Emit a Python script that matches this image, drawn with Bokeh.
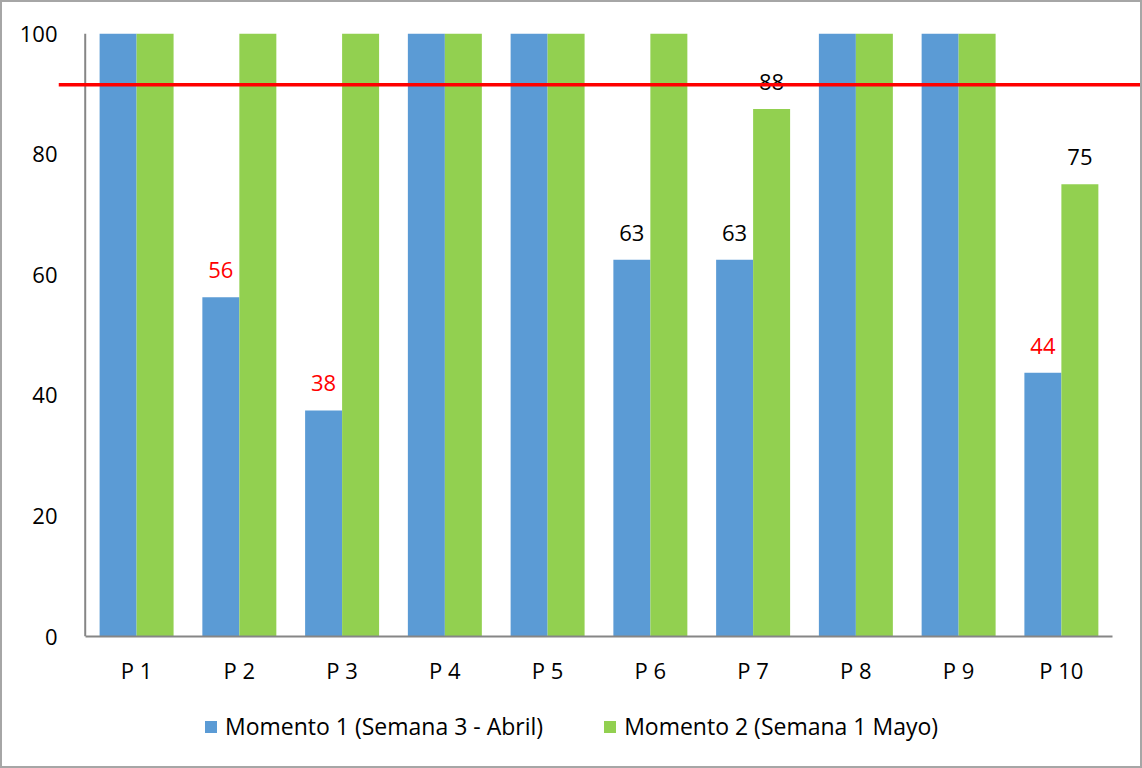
import math

from bokeh.core.properties import value
from bokeh.embed import file_html
from bokeh.layouts import column
from bokeh.models import (ColumnDataSource, FixedTicker, Legend, LegendItem,
                          Range1d, Span)
from bokeh.plotting import figure
from bokeh.resources import INLINE

# Porcentaje de logro por pregunta en dos momentos de evaluación
categorias = ["P 1", "P 2", "P 3", "P 4", "P 5", "P 6", "P 7", "P 8", "P 9", "P 10"]
momento1 = [100, 56.25, 37.5, 100, 100, 62.5, 62.5, 100, 100, 43.75]
momento2 = [100, 100, 100, 100, 100, 100, 87.5, 100, 100, 75]
meta = 91.5
y_ticks = [0, 20, 40, 60, 80, 100]
series = ["Momento 1 (Semana 3 - Abril)", "Momento 2 (Semana 1 Mayo)"]

AZUL = "#5B9BD5"
VERDE = "#92D050"
GRIS = "#868686"
ROJO = "#FF0000"
FUENTE = "Open Sans"

pos = list(range(len(categorias)))
ancho = 0.36
desp = 0.18


def redondeo(v):
    return str(int(math.floor(v + 0.5)))


p = figure(width=1138, height=685,
           x_range=Range1d(-0.76, 9.77), y_range=Range1d(0, 100),
           output_backend="svg", toolbar_location=None,
           min_border_left=56, min_border_top=31,
           min_border_right=0, min_border_bottom=51)
p.outline_line_color = None
p.grid.visible = False
p.background_fill_color = "white"
p.border_fill_color = "white"

src1 = ColumnDataSource(dict(x=[i - desp for i in pos], top=momento1))
src2 = ColumnDataSource(dict(x=[i + desp for i in pos], top=momento2))
p.vbar(x="x", top="top", width=ancho, bottom=0, source=src1,
       fill_color=AZUL, line_color=None)
p.vbar(x="x", top="top", width=ancho, bottom=0, source=src2,
       fill_color=VERDE, line_color=None)

# eje vertical dibujado al inicio de la zona de barras
p.segment(x0=[-0.5], y0=[0], x1=[-0.5], y1=[100], line_color=GRIS, line_width=2)

# etiquetas de valor solo en las barras por debajo del 100 %
lx, ly, lt, lc = [], [], [], []
for serie, d in ((momento1, -desp), (momento2, desp)):
    for i, v in zip(pos, serie):
        if v < 100:
            lx.append(i + d)
            ly.append(v)
            lt.append(redondeo(v))
            lc.append(ROJO if v < 60 else "black")
p.text(x="x", y="y", text="t", text_color="c",
       source=ColumnDataSource(dict(x=lx, y=ly, t=lt, c=lc)),
       text_font=value(FUENTE), text_font_size="22px",
       text_align="center", text_baseline="bottom", y_offset=-19)

# línea de meta
p.add_layout(Span(location=meta, dimension="width", line_color=ROJO, line_width=3.5))

# ejes
xa = p.xaxis[0]
xa.ticker = FixedTicker(ticks=pos)
xa.major_label_overrides = {i: c for i, c in zip(pos, categorias)}
xa.bounds = (-0.5, 9.5)
xa.axis_line_color = GRIS
xa.axis_line_width = 2
xa.major_tick_line_color = None
xa.minor_tick_line_color = None
xa.major_tick_out = 0
xa.major_label_standoff = 18
xa.major_label_text_font = FUENTE
xa.major_label_text_font_size = "22px"
xa.major_label_text_color = "black"

ya = p.yaxis[0]
ya.ticker = FixedTicker(ticks=y_ticks)
ya.axis_line_color = None
ya.major_tick_line_color = None
ya.minor_tick_line_color = None
ya.major_tick_out = 0
ya.major_label_standoff = 1
ya.major_label_text_font = FUENTE
ya.major_label_text_font_size = "22px"
ya.major_label_text_color = "black"

# franja inferior con la leyenda; sus barras de muestra no se dibujan
pl = figure(width=1138, height=79, x_range=Range1d(0, 1), y_range=Range1d(0, 1),
            output_backend="svg", toolbar_location=None,
            x_axis_type=None, y_axis_type=None, min_border=0)
pl.outline_line_color = None
pl.grid.visible = False
r1 = pl.vbar(x=[0.5], top=[0.5], width=0.1, fill_color=AZUL, line_color=None)
r2 = pl.vbar(x=[0.5], top=[0.5], width=0.1, fill_color=VERDE, line_color=None)
r1.visible = False
r2.visible = False
leyenda = Legend(items=[LegendItem(label=series[0], renderers=[r1]),
                        LegendItem(label=series[1], renderers=[r2])],
                 orientation="horizontal", location=(145, 24),
                 glyph_width=15, glyph_height=15, label_standoff=7,
                 spacing=59, padding=0, margin=0, click_policy="none",
                 border_line_color=None, background_fill_alpha=0,
                 label_text_font=FUENTE, label_text_font_size="23px",
                 label_text_color="black")
pl.add_layout(leyenda)

graf = column(p, pl, spacing=0)
graf.styles = {"border": "2px solid #a6a6a6", "background-color": "white"}

open("out.html", "w").write(file_html(graf, INLINE))
